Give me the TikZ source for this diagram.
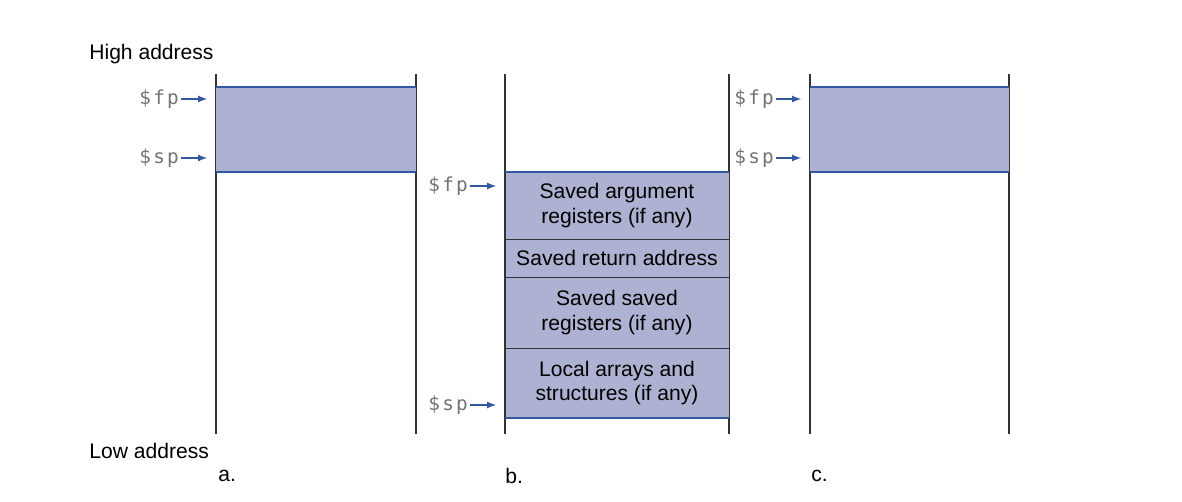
\documentclass[tikz,border=0pt]{standalone}
\usepackage{fontspec}
\setmainfont{Liberation Sans}
\newfontfamily\regfont[LetterSpace=12]{DejaVu Sans Mono}
\usetikzlibrary{positioning}
\definecolor{framefill}{RGB}{174,178,210}
\definecolor{frameblue}{RGB}{52,88,160}
\definecolor{reggray}{RGB}{115,115,115}
\tikzset{
  wall/.style={draw=black!80, line width=0.6pt},
  block/.style={fill=framefill, draw=black!80, line width=0.5pt, inner sep=0pt, outer sep=0pt,
    minimum width=4.48cm, align=center, font=\fontsize{12}{13.8}\selectfont},
  edge/.style={draw=frameblue, line width=1.4pt},
  reg/.style={anchor=east, inner sep=1pt, text=reggray, font=\regfont\fontsize{11}{12}\selectfont},
  ptr/.style={-latex, draw=frameblue, fill=frameblue, line width=0.8pt, shorten >=5pt},
  lbl/.style={anchor=west, inner sep=0pt, font=\fontsize{12}{14}\selectfont}
}
\begin{document}
\begin{tikzpicture}[x=0.02cm,y=-0.02cm]
  \useasboundingbox (0,0) rectangle (1182,502);
  \foreach \x in {216,416,505,729,810,1009}
    \draw[wall] (\x,74) -- (\x,434);
  \node[lbl] (high) at (89,54) {High address};
  \node[lbl] (low) at (89,451) {Low address};
  % a.
  \node[block, draw=none, minimum width=4cm, minimum height=1.7cm] (fa) at (316,129.5) {};
  \draw[edge] (fa.north west) -- (fa.north east);
  \draw[edge] (fa.south west) -- (fa.south east);
  \node[reg] (fpa) at (181,99) {\$fp};
  \node[reg] (spa) at (181,158) {\$sp};
  \draw[ptr] (fpa.east) -- (fpa.east -| fa.west);
  \draw[ptr] (spa.east) -- (spa.east -| fa.west);
  \node[lbl] (capa) at (218,476) {a.};
  % b.
  \node[block, minimum height=1.34cm] (args) at (617,205.5) {Saved argument\\registers (if any)};
  \node[block, minimum height=0.76cm, below=0pt of args] (ret) {Saved return address};
  \node[block, minimum height=1.42cm, below=0pt of ret] (saved) {Saved saved\\registers (if any)};
  \node[block, minimum height=1.40cm, below=0pt of saved] (local) {Local arrays and\\structures (if any)};
  \draw[edge] (args.north west) -- (args.north east);
  \draw[edge] (local.south west) -- (local.south east);
  \node[reg] (fpb) at (470,186) {\$fp};
  \node[reg] (spb) at (470,405) {\$sp};
  \draw[ptr] (fpb.east) -- (fpb.east -| args.west);
  \draw[ptr] (spb.east) -- (spb.east -| local.west);
  \node[lbl] (capb) at (505,476) {b.};
  % c.
  \node[block, draw=none, minimum width=3.98cm, minimum height=1.7cm] (fc) at (909.5,129.5) {};
  \draw[edge] (fc.north west) -- (fc.north east);
  \draw[edge] (fc.south west) -- (fc.south east);
  \node[reg] (fpc) at (776,99) {\$fp};
  \node[reg] (spc) at (776,158) {\$sp};
  \draw[ptr] (fpc.east) -- (fpc.east -| fc.west);
  \draw[ptr] (spc.east) -- (spc.east -| fc.west);
  \node[lbl] (capc) at (811,476) {c.};
\end{tikzpicture}
\end{document}
